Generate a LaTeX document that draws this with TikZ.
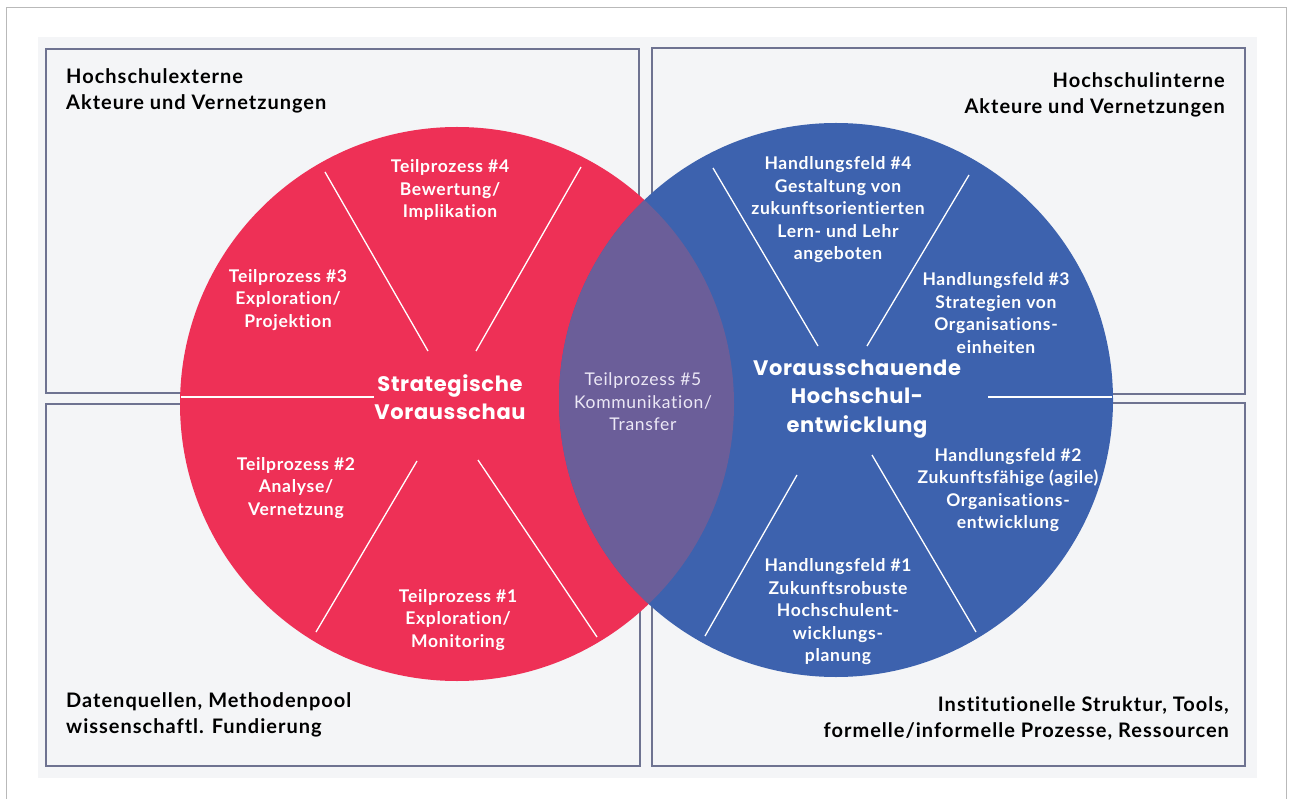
\documentclass[tikz,border=0pt]{standalone}
\usepackage{fontspec}
\setmainfont{Lato}[Ligatures=NoCommon]
\newfontfamily\titlefont{Poppins}
\definecolor{svred}{RGB}{238,48,86}
\definecolor{vhblue}{RGB}{61,98,174}
\definecolor{lens}{RGB}{107,94,153}
\definecolor{bg}{RGB}{244,245,247}
\definecolor{frame}{RGB}{110,115,145}
\definecolor{lenstext}{RGB}{236,232,246}

\begin{document}
\begin{tikzpicture}[x=1pt,y=-1pt
  ,box/.style={draw=frame,line width=1.2pt,fill=bg}
  ,corner/.style={font=\bfseries\fontsize{20}{26}\selectfont\addfontfeature{LetterSpace=5},inner sep=0pt}
  ,lbl/.style={text=white,font=\bfseries\fontsize{17.5}{22.5}\selectfont\addfontfeature{LetterSpace=4},align=center,inner sep=0pt}
  ,title/.style={text=white,font=\titlefont\bfseries\fontsize{21}{28.5}\selectfont\addfontfeature{LetterSpace=3},align=center,inner sep=0pt}
  ,spoke/.style={white,line width=1.3pt}]

  \useasboundingbox (0,0) rectangle (1293,799);
  \draw[gray!55,line width=1pt] (6,799) -- (6,8) -- (1286,8) -- (1286,799);
  \fill[bg] (38,37) rectangle (1257,778);

  \draw[box] (46,49)  rectangle (639,393);
  \draw[box] (46,404) rectangle (640,766);
  \draw[box] (652,48) rectangle (1245,394);
  \draw[box] (652,403) rectangle (1245,766);

  \coordinate (sv) at (457,404);
  \coordinate (vh) at (836,400);
  \fill[svred]  (sv) circle[radius=277pt];
  \fill[vhblue] (vh) circle[radius=277pt];
  \begin{scope}
    \clip (sv) circle[radius=277pt];
    \fill[lens] (vh) circle[radius=277pt];
  \end{scope}

  \foreach \ax/\ay/\bx/\by in {325/172/428/351, 581/167/476/351, 316/632/417/461, 597/637/478/460,
                     713/168/818/346, 969/175/867/346, 705/636/797/475, 976/632/872/455}
    \draw[spoke] (\ax,\ay) -- (\bx,\by);
  \draw[spoke] (181,397) -- (374,397);
  \draw[spoke] (988,397) -- (1112,397);

  \node[corner,anchor=north west,align=left] (ext) at (66,68)
    {Hochschulexterne\\Akteure und Vernetzungen};
  \node[corner,anchor=north east,align=right] (int) at (1225,72)
    {Hochschulinterne\\Akteure und Vernetzungen};
  \node[corner,anchor=north west,align=left] (dat) at (66,692)
    {Datenquellen, Methodenpool\\wissenschaftl. Fundierung};
  \node[corner,anchor=north east,align=right] (inst) at (1229,696)
    {Institutionelle Struktur, Tools,\\formelle/informelle Prozesse, Ressourcen};

  \node[title] (svt) at (450,397) {Strategische\\Vorausschau};
  \node[title] (vht) at (857,399) {Vorausschauende\\Hochschul-\\entwicklung};

  \node[lbl] (tp4) at (450,190) {Teilprozess \#4\\Bewertung/\\Implikation};
  \node[lbl] (tp3) at (288,300) {Teilprozess \#3\\Exploration/\\Projektion};
  \node[lbl] (tp2) at (296,488) {Teilprozess \#2\\Analyse/\\Vernetzung};
  \node[lbl] (tp1) at (458,620) {Teilprozess \#1\\Exploration/\\Monitoring};
  \node[lbl,text=lenstext,font=\fontsize{17.5}{22.5}\selectfont\addfontfeature{LetterSpace=4}] (tp5) at (643,402)
    {Teilprozess \#5\\Kommunikation/\\Transfer};

  \node[lbl] (hf4) at (838,210) {Handlungsfeld \#4\\Gestaltung von\\zukunftsorientierten\\Lern- und Lehr\\angeboten};
  \node[lbl] (hf3) at (996,313) {Handlungsfeld \#3\\Strategien von\\Organisations-\\einheiten};
  \node[lbl] (hf2) at (1008,490) {Handlungsfeld \#2\\Zukunftsfähige (agile)\\Organisations-\\entwicklung};
  \node[lbl] (hf1) at (838,612) {Handlungsfeld \#1\\Zukunftsrobuste\\Hochschulent-\\wicklungs-\\planung};

\end{tikzpicture}
\end{document}
